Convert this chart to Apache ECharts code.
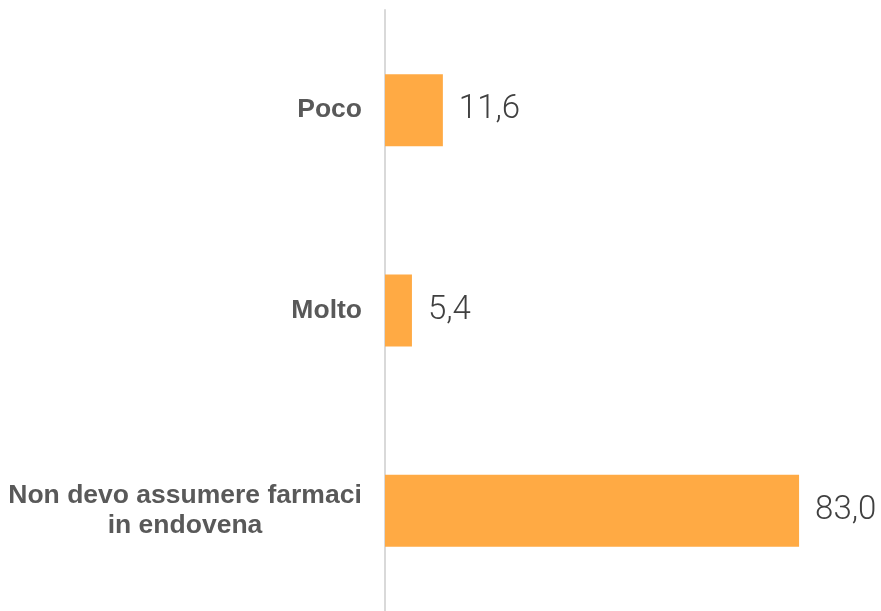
<!DOCTYPE html>
<html>
<head>
<meta charset="utf-8">
<script src="https://cdn.jsdelivr.net/npm/echarts@6/dist/echarts.min.js"></script>
<style>
  html, body { margin: 0; padding: 0; background: #fff; }
  #chart { width: 881px; height: 611px; }
</style>
</head>
<body>
<div id="chart"></div>
<script>
const categories = ['Poco', 'Molto', 'Non devo assumere farmaci\nin endovena'];
const values = [11.6, 5.4, 83.0];

const chart = echarts.init(document.getElementById('chart'));
chart.setOption({
    animation: false,
    grid: { left: 385, top: 10, width: 449, height: 605 },
    xAxis: {
        type: 'value',
        min: 0,
        max: 90,
        show: false
    },
    yAxis: {
        type: 'category',
        data: categories,
        inverse: true,
        axisTick: { show: false },
        axisLine: { lineStyle: { color: '#d9d9d9', width: 2 } },
        axisLabel: {
            margin: 23,
            fontFamily: '"Liberation Sans", Arial, sans-serif',
            fontWeight: 'bold',
            fontSize: 26.5,
            lineHeight: 30,
            color: '#595959',
            align: 'right',
            // multi-line labels are centred line by line
            formatter: v => v.indexOf('\n') < 0 ? v
                : v.split('\n').map(s => '{c|' + s + '}').join('\n'),
            rich: {
                c: {
                    width: 354,
                    align: 'center',
                    fontFamily: '"Liberation Sans", Arial, sans-serif',
                    fontWeight: 'bold',
                    fontSize: 26.5,
                    lineHeight: 30,
                    color: '#595959'
                }
            }
        }
    },
    series: [{
        type: 'bar',
        data: values,
        barWidth: 72,
        itemStyle: { color: '#FFAA44' },
        label: {
            show: true,
            position: 'right',
            distance: 16,
            fontFamily: 'Roboto, sans-serif',
            fontWeight: 300,
            fontSize: 33,
            color: '#404040',
            formatter: p => p.value.toFixed(1).replace('.', ',')
        }
    }]
});
</script>
</body>
</html>
